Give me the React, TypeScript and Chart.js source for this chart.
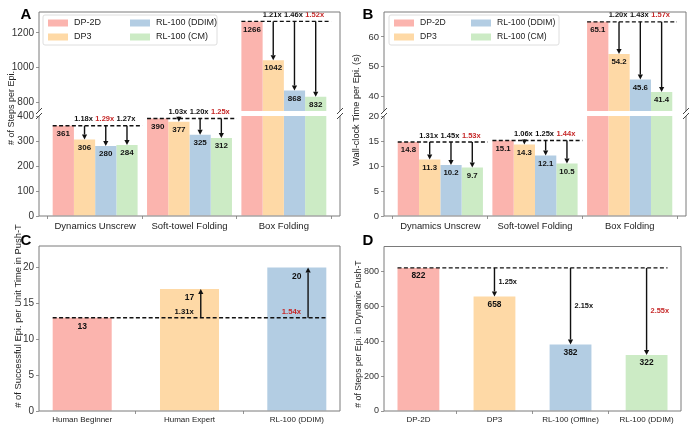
import { useEffect, useRef } from "react";
import { Chart, registerables } from "chart.js";
Chart.register(...registerables);

const FONT = "'Liberation Sans', Arial, Helvetica, sans-serif";
Chart.defaults.font.family = FONT;

// ---------- data ----------
const methods = ["DP-2D", "DP3", "RL-100 (DDIM)", "RL-100 (CM)"];
const tasks = ["Dynamics Unscrew", "Soft-towel Folding", "Box Folding"];

// A: steps per episode
const stepsDP2D = [361, 390, 1266];
const stepsDP3 = [306, 377, 1042];
const stepsDDIM = [280, 325, 868];
const stepsCM = [284, 312, 832];
const stepsRatios = [["1.18x", "1.29x", "1.27x"], ["1.03x", "1.20x", "1.25x"], ["1.21x", "1.46x", "1.52x"]];
const stepsBest = [1, 2, 2];
const stepsTopTicks = [800, 1000, 1200];
const stepsLowTicks = [0, 100, 200, 300, 400];

// B: wall-clock time per episode
const timeDP2D = [14.8, 15.1, 65.1];
const timeDP3 = [11.3, 14.3, 54.2];
const timeDDIM = [10.2, 12.1, 45.6];
const timeCM = [9.7, 10.5, 41.4];
const timeRatios = [["1.31x", "1.45x", "1.53x"], ["1.06x", "1.25x", "1.44x"], ["1.20x", "1.43x", "1.57x"]];
const timeBest = [2, 2, 2];
const timeTopTicks = [40, 50, 60];
const timeLowTicks = [0, 5, 10, 15, 20];

// C: successful episodes per unit time in Push-T
const pushLabels = ["Human Beginner", "Human Expert", "RL-100 (DDIM)"];
const pushEpisodes = [13, 17, 20];
const pushRatios = ["", "1.31x", "1.54x"];
const pushBest = 2;
const pushTicks = [0, 5, 10, 15, 20];

// D: steps per episode in Dynamic Push-T
const dynLabels = ["DP-2D", "DP3", "RL-100 (Offline)", "RL-100 (DDIM)"];
const dynSteps = [822, 658, 382, 322];
const dynRatios = ["", "1.25x", "2.15x", "2.55x"];
const dynBest = 3;
const dynTicks = [0, 200, 400, 600, 800];

// ---------- style ----------
const W = 692, H = 429, YW = 30, XH = 15;
const COLORS = ["#fbb4ae", "#fed9a6", "#b3cde3", "#ccebc5"];
const RED = "#c62828";
const INK = "#111";
const SPINE = "#7a7a7a";

const bold = (px: number) => `bold ${px}px ${FONT}`;
const reg = (px: number) => `${px}px ${FONT}`;

function text(ctx: CanvasRenderingContext2D, s: string, x: number, y: number, font: string, color: string, align: CanvasTextAlign = "center") {
  ctx.font = font;
  ctx.fillStyle = color;
  ctx.textAlign = align;
  ctx.textBaseline = "middle";
  ctx.fillText(s, x, y);
}

function arrow(ctx: CanvasRenderingContext2D, x: number, y0: number, y1: number) {
  const dir = y1 > y0 ? 1 : -1, hl = 5, hw = 2.6;
  ctx.setLineDash([]);
  ctx.strokeStyle = INK;
  ctx.fillStyle = INK;
  ctx.lineWidth = 1.4;
  ctx.beginPath();
  ctx.moveTo(x, y0);
  ctx.lineTo(x, y1 - dir * hl);
  ctx.stroke();
  ctx.beginPath();
  ctx.moveTo(x, y1);
  ctx.lineTo(x - hw, y1 - dir * hl);
  ctx.lineTo(x + hw, y1 - dir * hl);
  ctx.closePath();
  ctx.fill();
}

function dashed(ctx: CanvasRenderingContext2D, x0: number, x1: number, y: number) {
  ctx.save();
  ctx.setLineDash([4, 2.4]);
  ctx.strokeStyle = INK;
  ctx.lineWidth = 1.3;
  ctx.beginPath();
  ctx.moveTo(x0, y);
  ctx.lineTo(x1, y);
  ctx.stroke();
  ctx.restore();
}

// spines (+ break marks for split axes)
function frame(top: boolean, bottom: boolean, brk: "top" | "bottom" | null) {
  return {
    id: "frame",
    afterDraw(chart: any) {
      const { ctx, chartArea: a } = chart;
      ctx.save();
      ctx.strokeStyle = SPINE;
      ctx.lineWidth = 1;
      ctx.beginPath();
      ctx.moveTo(a.left, a.top); ctx.lineTo(a.left, a.bottom);
      ctx.moveTo(a.right, a.top); ctx.lineTo(a.right, a.bottom);
      if (top) { ctx.moveTo(a.left, a.top); ctx.lineTo(a.right, a.top); }
      if (bottom) { ctx.moveTo(a.left, a.bottom); ctx.lineTo(a.right, a.bottom); }
      ctx.stroke();
      if (brk) {
        const y = brk === "top" ? a.top : a.bottom;
        ctx.strokeStyle = "#444";
        ctx.beginPath();
        [a.left, a.right].forEach((x: number) => { ctx.moveTo(x - 3, y + 3); ctx.lineTo(x + 3, y - 3); });
        ctx.stroke();
      }
      ctx.restore();
    },
  };
}

function decor(letter: string, lx: number, ly: number, title: string, tx: number, ty: number, size: number) {
  return {
    id: "decor",
    afterDraw(chart: any) {
      const ctx = chart.ctx;
      ctx.save();
      ctx.font = bold(15);
      ctx.fillStyle = "#000";
      ctx.textAlign = "left";
      ctx.textBaseline = "alphabetic";
      ctx.fillText(letter, lx, ly);
      ctx.translate(tx, ty);
      ctx.rotate(-Math.PI / 2);
      text(ctx, title, 0, 0, reg(size), "#222");
      ctx.restore();
    },
  };
}

function legend(x: number, y: number, w: number, col2: number, size: number) {
  return {
    id: "legendBox",
    afterDraw(chart: any) {
      const ctx = chart.ctx;
      ctx.save();
      ctx.fillStyle = "rgba(255,255,255,0.85)";
      ctx.strokeStyle = "#d6d6d6";
      ctx.lineWidth = 0.8;
      ctx.beginPath();
      ctx.roundRect(x, y, w, 30, 2);
      ctx.fill();
      ctx.stroke();
      methods.forEach((m, i) => {
        const cx = x + 5 + (i < 2 ? 0 : col2);
        const cy = y + 8 + (i % 2) * 14;
        ctx.fillStyle = COLORS[i];
        ctx.fillRect(cx, cy - 3.5, 20, 7);
        text(ctx, m, cx + 26, cy, reg(size), "#222", "left");
      });
      ctx.restore();
    },
  };
}

// arrows / ratios / values for grouped panels A and B
function groupNotes(series: number[][], ratios: string[][], best: number[], valueFont: number, ratioFont: number) {
  return {
    id: "groupNotes",
    afterDatasetsDraw(chart: any) {
      const { ctx } = chart;
      const xs = chart.scales.x, ys = chart.scales.y;
      const inRange = (v: number) => v >= ys.min && v <= ys.max;
      ctx.save();
      series[0].forEach((base, g) => {
        series.forEach((vals, d) => {
          if (!inRange(vals[g])) return;
          const el = chart.getDatasetMeta(d).data[g];
          text(ctx, String(vals[g]), el.x, el.y + 8, bold(valueFont), INK);
        });
        if (!inRange(base)) return;
        const yb = ys.getPixelForValue(base);
        dashed(ctx, xs.getPixelForValue(g - 0.45), xs.getPixelForValue(g + 0.5), yb);
        for (let d = 1; d < series.length; d++) {
          const el = chart.getDatasetMeta(d).data[g];
          arrow(ctx, el.x, yb, el.y);
          text(ctx, ratios[g][d - 1], el.x - 1, yb - 6.5, bold(ratioFont), d - 1 === best[g] ? RED : INK);
        }
      });
      ctx.restore();
    },
  };
}

function pushNotes() {
  return {
    id: "pushNotes",
    afterDatasetsDraw(chart: any) {
      const { ctx } = chart;
      const xs = chart.scales.x, ys = chart.scales.y;
      const els = chart.getDatasetMeta(0).data;
      const yb = ys.getPixelForValue(pushEpisodes[0]);
      ctx.save();
      els.forEach((el: any, i: number) => text(ctx, String(pushEpisodes[i]), el.x, el.y + 9, bold(8.5), INK));
      const last = els[els.length - 1];
      dashed(ctx, els[0].x - els[0].width / 2, last.x + last.width / 2, yb);
      els.forEach((el: any, i: number) => {
        if (i === 0) return;
        arrow(ctx, xs.getPixelForValue(i + 0.105), yb, el.y);
        text(ctx, pushRatios[i], xs.getPixelForValue(i - 0.05), yb - 6, bold(7.7), i === pushBest ? RED : INK);
      });
      ctx.restore();
    },
  };
}

function dynNotes() {
  return {
    id: "dynNotes",
    afterDatasetsDraw(chart: any) {
      const { ctx } = chart;
      const ys = chart.scales.y;
      const els = chart.getDatasetMeta(0).data;
      const base = dynSteps[0];
      const yb = ys.getPixelForValue(base);
      ctx.save();
      els.forEach((el: any, i: number) => text(ctx, String(dynSteps[i]), el.x, el.y + 8, bold(8.4), INK));
      const last = els[els.length - 1];
      dashed(ctx, els[0].x - els[0].width / 2, last.x + last.width / 2, yb);
      els.forEach((el: any, i: number) => {
        if (i === 0) return;
        arrow(ctx, el.x, yb, el.y);
        text(ctx, dynRatios[i], el.x + 4, ys.getPixelForValue((base + dynSteps[i]) / 2), bold(7.4), i === dynBest ? RED : INK, "left");
      });
      ctx.restore();
    },
  };
}

type Layer = {
  box: { l: number; t: number; r: number; b: number };
  xMin: number; xMax: number; yMin: number; yMax: number; yTicks: number[];
  tickFont: number; xLabels?: string[]; xFont?: number; xPad?: number; groupWidth: number;
  series: number[][]; colors: (string | string[])[]; plugins: any[];
};

function barConfig(p: Layer): any {
  const showX = !!p.xLabels;
  const x: any = {
    type: "linear", bounds: "data", min: p.xMin, max: p.xMax, offset: false, display: showX,
    afterBuildTicks: (s: any) => { s.ticks = p.series[0].map((_, i) => ({ value: i })); },
    ticks: {
      callback: (v: number) => (p.xLabels ? p.xLabels[v] : ""),
      font: { size: p.xFont ?? 9, family: FONT }, color: "#222", padding: p.xPad ?? 0, maxRotation: 0, autoSkip: false,
    },
    grid: { drawOnChartArea: false, tickLength: 3, tickColor: SPINE, tickWidth: 0.8 },
    border: { display: false },
  };
  if (showX) x.afterFit = (s: any) => { s.height = XH; };
  return {
    type: "bar",
    data: {
      datasets: p.series.map((vals, d) => ({
        data: vals.map((y, i) => ({ x: i, y })),
        backgroundColor: p.colors[d],
        borderWidth: 0,
        categoryPercentage: p.groupWidth,
        barPercentage: 1,
        clip: 0,
      })),
    },
    options: {
      responsive: true,
      maintainAspectRatio: false,
      animation: false,
      events: [],
      layout: {
        padding: { left: p.box.l - YW, top: p.box.t, right: W - p.box.r, bottom: H - p.box.b - (showX ? XH : 0) },
      },
      plugins: { legend: { display: false }, tooltip: { enabled: false } },
      scales: {
        x,
        y: {
          type: "linear", bounds: "data", min: p.yMin, max: p.yMax,
          afterBuildTicks: (s: any) => { s.ticks = p.yTicks.map((v) => ({ value: v })); },
          afterFit: (s: any) => { s.width = YW; },
          ticks: { callback: (v: number) => String(v), font: { size: p.tickFont, family: FONT }, color: "#333", padding: 2 },
          grid: { drawOnChartArea: false, tickLength: 3, tickColor: SPINE, tickWidth: 0.8 },
          border: { display: false },
        },
      },
    },
    plugins: p.plugins,
  };
}

const stepsSeries = [stepsDP2D, stepsDP3, stepsDDIM, stepsCM];
const timeSeries = [timeDP2D, timeDP3, timeDDIM, timeCM];
const GX = { xMin: -0.595, xMax: 2.595, groupWidth: 0.9 };

const makeATop = () => barConfig({
  box: { l: 39, t: 12, r: 340, b: 111 }, ...GX, yMin: 750, yMax: 1320, yTicks: stepsTopTicks, tickFont: 10,
  series: stepsSeries, colors: COLORS,
  plugins: [frame(true, false, "bottom"), groupNotes(stepsSeries, stepsRatios, stepsBest, 8, 7.5), legend(43, 15, 174, 82, 9),
    decor("A", 20.5, 18.5, "# of Steps per Epi.", 12, 108, 9)],
});
const makeALow = () => barConfig({
  box: { l: 39, t: 116, r: 340, b: 216 }, ...GX, yMin: 0, yMax: 400, yTicks: stepsLowTicks, tickFont: 10,
  xLabels: tasks, xFont: 9.5, xPad: 1.5, series: stepsSeries, colors: COLORS,
  plugins: [frame(false, true, "top"), groupNotes(stepsSeries, stepsRatios, stepsBest, 8, 7.5)],
});
const makeBTop = () => barConfig({
  box: { l: 384, t: 12, r: 686, b: 111 }, ...GX, yMin: 35, yMax: 68.4, yTicks: timeTopTicks, tickFont: 9.5,
  series: timeSeries, colors: COLORS,
  plugins: [frame(true, false, "bottom"), groupNotes(timeSeries, timeRatios, timeBest, 7.8, 7.5), legend(389, 15, 170, 77, 8.6),
    decor("B", 362.5, 18.5, "Wall-clock Time per Epi. (s)", 356, 110, 9.2)],
});
const makeBLow = () => barConfig({
  box: { l: 384, t: 116, r: 686, b: 216 }, ...GX, yMin: 0, yMax: 20, yTicks: timeLowTicks, tickFont: 9.5,
  xLabels: tasks, xFont: 9.4, xPad: 1.5, series: timeSeries, colors: COLORS,
  plugins: [frame(false, true, "top"), groupNotes(timeSeries, timeRatios, timeBest, 7.8, 7.5)],
});
const makeC = () => barConfig({
  box: { l: 39, t: 246, r: 340, b: 411 }, xMin: -0.4025, xMax: 2.4025, groupWidth: 0.55,
  yMin: 0, yMax: 23, yTicks: pushTicks, tickFont: 10, xLabels: pushLabels, xFont: 8, xPad: 0.5,
  series: [pushEpisodes], colors: [COLORS.slice(0, 3)],
  plugins: [frame(true, true, null), pushNotes(),
    decor("C", 20.5, 244.5, "# of Successful Epi. per Unit Time in Push-T", 18, 316, 9.4)],
});
const makeD = () => barConfig({
  box: { l: 384, t: 246.5, r: 681, b: 411 }, xMin: -0.4525, xMax: 3.4525, groupWidth: 0.55,
  yMin: 0, yMax: 945, yTicks: dynTicks, tickFont: 9, xLabels: dynLabels, xFont: 8, xPad: 0.5,
  series: [dynSteps], colors: [COLORS],
  plugins: [frame(true, true, null), dynNotes(),
    decor("D", 362.5, 244.5, "# of Steps per Epi. in Dynamic Push-T", 359, 334, 8.7)],
});

const layers = [makeATop, makeALow, makeBTop, makeBLow, makeC, makeD];

function ChartLayer({ make }: { make: () => any }) {
  const ref = useRef<HTMLCanvasElement>(null);
  useEffect(() => {
    if (!ref.current) return;
    const chart = new Chart(ref.current, make());
    return () => chart.destroy();
  }, [make]);
  return (
    <div style={{ position: "absolute", left: 0, top: 0, width: W, height: H }}>
      <canvas ref={ref} />
    </div>
  );
}

export default function App() {
  return (
    <div style={{ position: "absolute", left: 0, top: 0, width: W, height: H, background: "#fff", overflow: "hidden" }}>
      {layers.map((make, i) => <ChartLayer key={i} make={make} />)}
    </div>
  );
}
